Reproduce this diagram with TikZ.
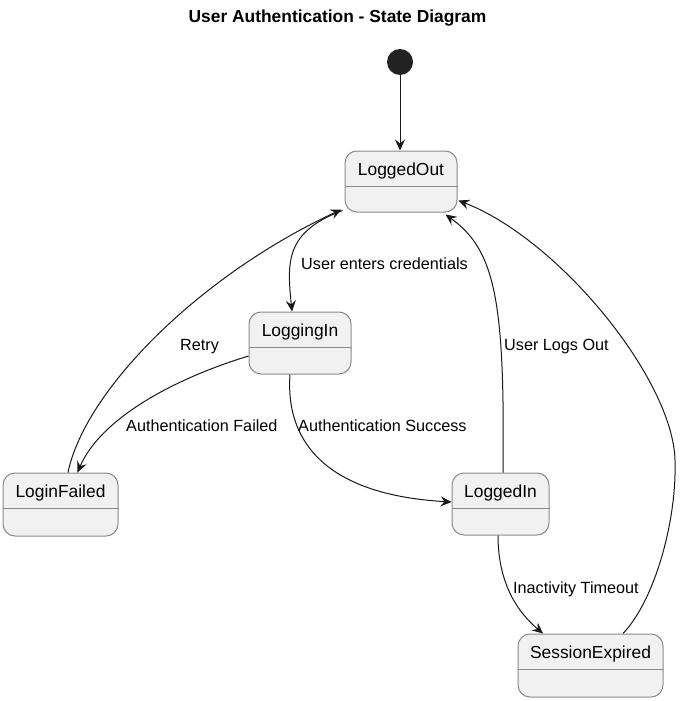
\documentclass[tikz,border=0pt]{standalone}
\usepackage{fontspec}
\setmainfont{Liberation Sans}
\usetikzlibrary{arrows.meta,calc}
\definecolor{boxfill}{HTML}{F1F1F1}
\definecolor{boxline}{HTML}{8A8A8A}
\definecolor{edgecol}{HTML}{181818}
\definecolor{startcol}{HTML}{222222}
\begin{document}
\begin{tikzpicture}[x=1pt,y=-1pt,
  statebox/.style={draw=boxline, fill=boxfill, line width=1pt, rounded corners=12pt, inner sep=0pt},
  stname/.style={font=\fontsize{17.4}{20}\selectfont, text=black, inner sep=0pt, anchor=base},
  lbl/.style={font=\fontsize{16.2}{19}\selectfont, text=black, inner sep=0pt, anchor=base west},
  trans/.style={draw=edgecol, line width=1pt, -{Stealth[length=11pt,width=10pt,inset=4pt]}},
  divider/.style={draw=boxline, line width=1pt}]
\useasboundingbox (0,0) rectangle (688,701);

\node[font=\bfseries\fontsize{17.4}{20}\selectfont, inner sep=0pt] (title) at (337.5,18) {User Authentication - State Diagram};

\node[circle, fill=startcol, draw=none, minimum size=26pt, inner sep=0pt] (start) at (400,62) {};

% states
\node[statebox, minimum width=112pt, minimum height=61pt] (lo) at (401,181.5) {};
\node[statebox, minimum width=102pt, minimum height=62pt] (li) at (300,343) {};
\node[statebox, minimum width=115pt, minimum height=63pt] (lf) at (60.5,504.5) {};
\node[statebox, minimum width=97pt, minimum height=62pt] (ld) at (500.5,504) {};
\node[statebox, minimum width=145pt, minimum height=63pt] (se) at (590.5,665.5) {};

\foreach \s/\t in {lo/LoggedOut, li/LoggingIn, lf/LoginFailed, ld/LoggedIn, se/SessionExpired}{
  \node[stname] (\s-name) at ($(\s.north)+(0,25)$) {\t};
  \draw[divider] ($(\s.north west)+(0,36)$) -- ($(\s.north east)+(0,36)$);
}

% transitions
\draw[trans] (start.south) -- (start.south |- lo.north);
\draw[trans] ($(lo.south west)+(-2,-2)$) .. controls (285,232) and (287,262) .. ($(li.north)+(-8,0)$);
\draw[trans] ($(lf.north)+(7.5,0)$) .. controls (85,390) and (200,275) .. ($(lo.south west)+(-3,-3)$);
\draw[trans] ($(li.west)+(0,13)$) .. controls (170,380) and (100,420) .. ($(lf.north)+(17,0)$);
\draw[trans] ($(li.south)+(-10,0)$) .. controls (285,445) and (330,495) .. ($(ld.west)+(0,-2)$);
\draw[trans] ($(ld.north)+(2.5,0)$) .. controls (505,300) and (495,250) .. ($(lo.south east)+(-12,2)$);
\coordinate (waypt) at (675,460);
\draw[trans] ($(se.north)+(32.5,0)$) .. controls (655,600) and (677,520) .. (waypt)
   .. controls (673,380) and (560,240) .. ($(lo.east)+(1,19)$);
\draw[trans] ($(ld.south)+(-2.5,0)$) .. controls (498,580) and (515,610) .. ($(se.north)+(-47.5,0)$);

% labels
\node[lbl] (l-cred) at (301,269) {User enters credentials};
\node[lbl] (l-retry) at (180,350) {Retry};
\node[lbl] (l-fail) at (126,431) {Authentication Failed};
\node[lbl] (l-succ) at (298,431) {Authentication Success};
\node[lbl] (l-out) at (504,350) {User Logs Out};
\node[lbl] (l-inact) at (513,593) {Inactivity Timeout};
\end{tikzpicture}
\end{document}
